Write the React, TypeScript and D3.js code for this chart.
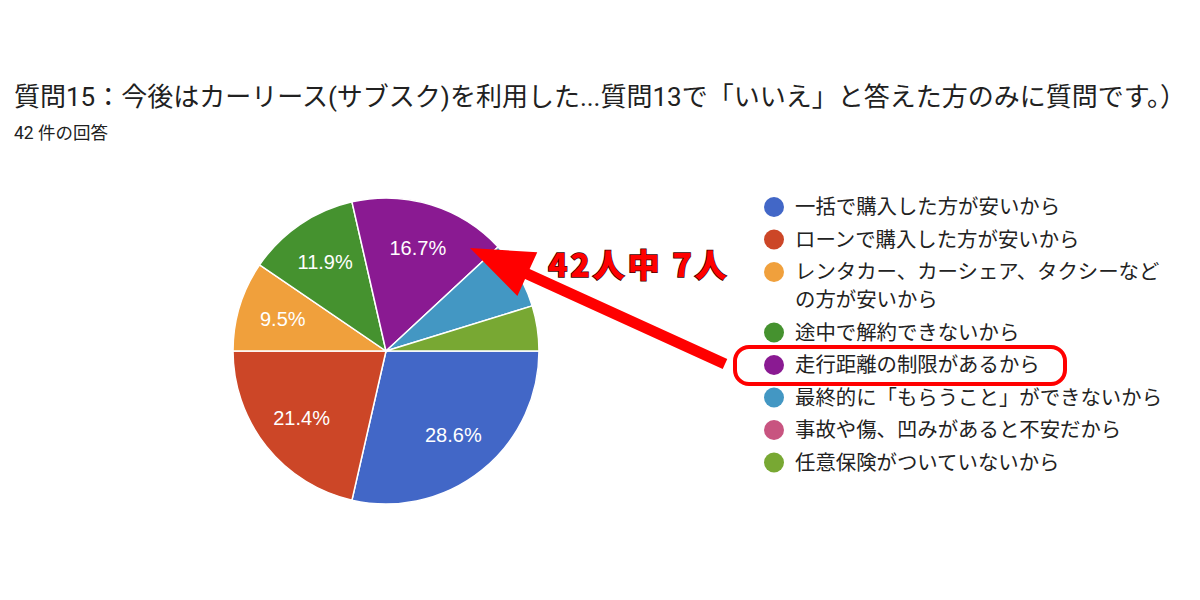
import React from "react";
import * as d3 from "d3";

const titleText = "質問15：今後はカーリース(サブスク)を利用した...質問13で「いいえ」と答えた方のみに質問です。）";
const subtitleText = "42 件の回答";
const categories = [
  "一括で購入した方が安いから",
  "ローンで購入した方が安いから",
  "レンタカー、カーシェア、タクシーなどの方が安いから",
  "途中で解約できないから",
  "走行距離の制限があるから",
  "最終的に「もらうこと」ができないから",
  "事故や傷、凹みがあると不安だから",
  "任意保険がついていないから",
];
const counts = [12, 9, 4, 5, 7, 3, 0, 2];
const colors = ["#4267c7", "#cc4627", "#f0a03c", "#45922f", "#8a1a92", "#4397c3", "#c85480", "#78a833"];
const annotationText = "42人中 7人";
const highlightIndex = 4;

const W = 1200, H = 600;
const cx = 386, cy = 351, R = 153;

function wrap(s: string, n: number): string[] {
  const out: string[] = [];
  for (let i = 0; i < s.length; i += n) out.push(s.slice(i, i + n));
  return out;
}

export default function App() {
  const total = d3.sum(counts);
  const pie = d3.pie<number>().sort(null).startAngle(Math.PI / 2).endAngle(Math.PI / 2 + 2 * Math.PI);
  const arcs = pie(counts);
  const arc = d3.arc<d3.PieArcDatum<number>>().innerRadius(0).outerRadius(R);
  const fmt = d3.format(".1f");

  // legend layout
  const legendX = 774, textX = 795;
  let y = 207;
  const legendRows = categories.map((c, i) => {
    const lines = wrap(c, 18);
    const row = { y, lines, i };
    y += 32.5 + (lines.length - 1) * 28;
    return row;
  });

  // arrow
  const tail = [725, 364], tip = [470, 248];
  const dx = tip[0] - tail[0], dy = tip[1] - tail[1];
  const L = Math.hypot(dx, dy);
  const ux = dx / L, uy = dy / L, px = -uy, py = ux;
  const headLen = 63, headW = 24, shaftW = 5.5;
  const bx = tip[0] - ux * headLen, by = tip[1] - uy * headLen;
  const arrowPts = [
    [tail[0] + px * shaftW, tail[1] + py * shaftW],
    [bx + px * shaftW, by + py * shaftW],
    [bx + px * headW, by + py * headW],
    [tip[0], tip[1]],
    [bx - px * headW, by - py * headW],
    [bx - px * shaftW, by - py * shaftW],
    [tail[0] - px * shaftW, tail[1] - py * shaftW],
  ];

  const hl = legendRows[highlightIndex];

  return (
    <svg width={W} height={H} style={{ position: "absolute", left: 0, top: 0, background: "#fff" }}
      fontFamily="Roboto, 'Noto Sans CJK JP', sans-serif">
      <text x={14} y={106} fontSize={26} fill="#212121">{titleText}</text>
      <text x={14} y={139} fontSize={17.5} fill="#212121">{subtitleText}</text>
      <g>
        {arcs.map((a, i) => (
          <path key={i} d={arc(a) || ""} transform={`translate(${cx},${cy})`} fill={colors[i]}
            stroke="#fff" strokeWidth={a.value > 0 ? 1.5 : 0} />
        ))}
        {arcs.map((a, i) => {
          const pct = (a.value / total) * 100;
          if (pct < 8) return null;
          const mid = (a.startAngle + a.endAngle) / 2;
          const d = 108;
          const x = cx + d * Math.sin(mid), yy = cy - d * Math.cos(mid);
          return (
            <text key={i} x={x} y={yy} textAnchor="middle" dominantBaseline="central" fontSize={20}
              fontFamily="'Liberation Sans', Arial, sans-serif" fill="#fff">{fmt(pct)}%</text>
          );
        })}
      </g>
      <g>
        {legendRows.map((r) => (
          <g key={r.i}>
            <circle cx={legendX} cy={r.y} r={10} fill={colors[r.i]} />
            {r.lines.map((ln, k) => (
              <text key={k} x={textX} y={r.y + k * 28} dominantBaseline="central" fontSize={20.4} fill="#222">{ln}</text>
            ))}
          </g>
        ))}
      </g>
      <rect x={735} y={hl.y - 18} width={330} height={37} rx={14} fill="none" stroke="#ff0000" strokeWidth={4} />
      <polygon points={arrowPts.map((p) => p.join(",")).join(" ")} fill="#ff0000" />
      <text x={548} y={277} fontSize={32} fontWeight={900} fill="#ff0000" stroke="#3a0000" strokeWidth={1.5}
        letterSpacing={2.8} style={{ paintOrder: "stroke" }} fontFamily="'Noto Sans CJK JP', sans-serif">{annotationText}</text>
    </svg>
  );
}
